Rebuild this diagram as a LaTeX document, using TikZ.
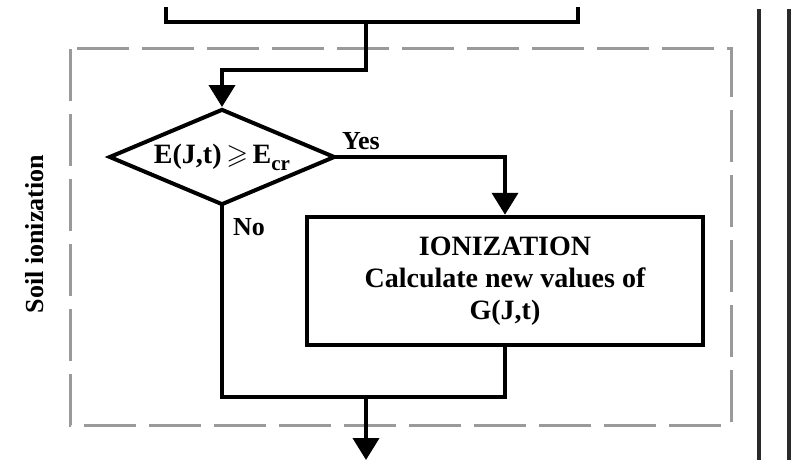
\documentclass[tikz,border=0pt]{standalone}
\usepackage{amssymb}
\usepackage{fontspec}
\setmainfont{Liberation Serif}
\usetikzlibrary{arrows.meta, positioning, shapes.geometric}
\definecolor{dashGray}{HTML}{9A9A9A}
\definecolor{railGray}{HTML}{2A2A2A}

\tikzset{
  wire/.style={line width=4pt, line cap=rect},
  flow/.style={wire, -{Triangle[length=22pt, width=26pt]}},
  decision/.style={diamond, draw, line width=4pt, inner sep=0pt, shape aspect=2.35,
    minimum width=226pt, minimum height=96pt, font=\bfseries\fontsize{28}{32}\selectfont},
  process/.style={rectangle, draw, line width=4.5pt, minimum width=396pt, minimum height=128pt,
    align=center, font=\bfseries\fontsize{28}{32}\selectfont},
  tag/.style={font=\bfseries\fontsize{26}{30}\selectfont}
}

\begin{document}
\begin{tikzpicture}[x=1pt, y=-1pt]
    \useasboundingbox (0,0) rectangle (800,460);
    % soil ionization block
    \draw[dashGray, line width=3pt, dash pattern=on 52pt off 13pt] (70,49) rectangle (731,425);
    \node[tag, rotate=90] (blocklabel) at (35,234) {Soil ionization};
    % previous step (cut off)
    \draw[wire] (166,9) -- (166,22) -- (578,22) -- (578,9);
    \coordinate (prev) at (366,22);
    \coordinate (bend) at (366,70);
    % rails on the right
    \draw[railGray, line width=4pt] (759,9) -- (759,460);
    \draw[railGray, line width=4pt] (789,9) -- (789,460);

    \node[decision] (check) at (222,157) {E(J,t)\,$\geqslant$\,E\raisebox{-7pt}{\fontsize{21}{24}\selectfont cr}};
    \node[process] (ioniz) at (505,281) {IONIZATION\\Calculate new values of\\G(J,t)};
    \coordinate (merge) at (222,397);
    \coordinate (exit) at (366,460);

    \draw[flow] (prev) -- (bend) -| (check.north);
    \draw[flow] (check.east) -| (ioniz.north);
    \draw[wire] (check.south) -- (merge) -| (ioniz.south);
    \draw[flow] (merge -| prev) -- (exit);

    \node[tag] (yes) at (361,141) {Yes};
    \node[tag] (no) at (249,227) {No};
\end{tikzpicture}
\end{document}
